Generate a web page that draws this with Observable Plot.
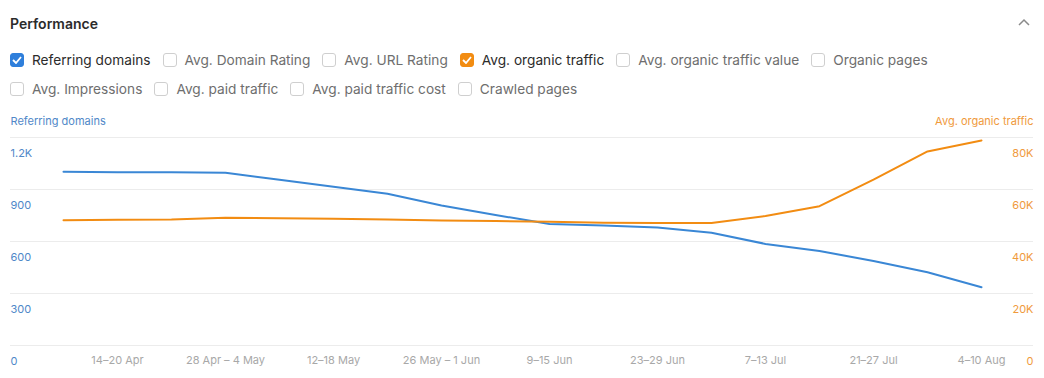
<!DOCTYPE html>
<html>
<head>
<meta charset="utf-8">
<script src="https://cdn.jsdelivr.net/npm/d3@7"></script>
<script src="https://cdn.jsdelivr.net/npm/@observablehq/plot@0.6"></script>
<style>
  body { margin:0; background:#fff; font-family: Inter, "Noto Sans", sans-serif; }
  #head { position:relative; height:110px; width:1044px; }
  .title { position:absolute; left:10px; top:15px; font-size:14px; font-weight:600; color:#2b2b2b; }
  .chev { position:absolute; left:1018px; top:18px; }
  .row { position:absolute; left:10px; display:flex; align-items:center; height:18px; }
  .item { display:flex; align-items:center; margin-right:12px; }
  .box { width:14px; height:14px; box-sizing:border-box; border:1px solid #cfcfcf; border-radius:3px; margin-right:8px; display:flex; align-items:center; justify-content:center; }
  .lbl { font-size:13.7px; color:#6e6e6e; white-space:nowrap; }
  .on .lbl { color:#2b2b2b; }
</style>
</head>
<body>
<div id="head">
  <div class="title">Performance</div>
  <svg class="chev" width="12" height="8" viewBox="0 0 12 8"><polyline points="1,7 6,2 11,7" fill="none" stroke="#8a8a8a" stroke-width="1.5"/></svg>
  <div class="row" id="row1" style="top:51px"></div>
  <div class="row" id="row2" style="top:80px"></div>
</div>
<div id="chart"></div>
<script>
// ---- data ----
const weeks = ["7–13 Apr","14–20 Apr","21–27 Apr","28 Apr – 4 May","5–11 May","12–18 May","19–25 May","26 May – 1 Jun","2–8 Jun","9–15 Jun","16–22 Jun","23–29 Jun","30 Jun – 6 Jul","7–13 Jul","14–20 Jul","21–27 Jul","28 Jul – 3 Aug","4–10 Aug"];
const referringDomains = [1002,1000,999,996,956,916,875,808,753,701,692,681,650,586,545,488,423,336];
const organicTraffic = [48190,48350,48460,49120,48920,48730,48460,48080,47880,47580,47190,47120,47120,49810,53580,63800,74620,78850];
const leftTicks = [0,300,600,900,1200];
const leftTickLabels = ["0","300","600","900","1.2K"];
const rightTicks = [0,20000,40000,60000,80000];
const rightTickLabels = ["0","20K","40K","60K","80K"];
const xTickLabels = weeks.filter((d,i)=>i%2===1);
const row1Labels = ["Referring domains","Avg. Domain Rating","Avg. URL Rating","Avg. organic traffic","Avg. organic traffic value","Organic pages"];
const row2Labels = ["Avg. Impressions","Avg. paid traffic","Avg. paid traffic cost","Crawled pages"];
const checked = {"Referring domains":"#2f7fdb","Avg. organic traffic":"#f28c12"};
const leftTitle = "Referring domains";
const rightTitle = "Avg. organic traffic";

// ---- checkboxes ----
function buildRow(el, labels){
  labels.forEach(l=>{
    const it = document.createElement("div");
    it.className = "item" + (checked[l] ? " on" : "");
    const b = document.createElement("div");
    b.className = "box";
    if (checked[l]) {
      b.style.background = checked[l];
      b.style.borderColor = checked[l];
      b.innerHTML = '<svg width="10" height="8" viewBox="0 0 10 8"><polyline points="1,4 4,7 9,1" fill="none" stroke="#fff" stroke-width="1.8"/></svg>';
    }
    const t = document.createElement("span");
    t.className = "lbl"; t.textContent = l;
    it.appendChild(b); it.appendChild(t);
    el.appendChild(it);
  });
}
buildRow(document.getElementById("row1"), row1Labels);
buildRow(document.getElementById("row2"), row2Labels);

// ---- chart ----
const blue = "#3a87d5", orange = "#f28c12";
const ratio = 1200/80000;
const rows = weeks.map((w,i)=>({week:w, rd:referringDomains[i], ot:organicTraffic[i]*ratio}));

const chart = Plot.plot({
  width:1044, height:268,
  marginTop:27, marginBottom:33, marginLeft:10, marginRight:11,
  style:{fontFamily:"Inter, 'Noto Sans', sans-serif", fontSize:"11px", background:"#fff"},
  x:{type:"point", domain:weeks, padding:0.97, axis:null},
  y:{domain:[0,1200], axis:null},
  marks:[
    Plot.ruleY(leftTicks, {stroke:"#ececec", strokeWidth:1}),
    Plot.text(leftTicks, {y:d=>d, text:(d,i)=>leftTickLabels[i], frameAnchor:"left", textAnchor:"start", lineAnchor:"middle", dy:16, fill:"#5088c8"}),
    Plot.text(rightTicks, {y:d=>d*ratio, text:(d,i)=>rightTickLabels[i], frameAnchor:"right", textAnchor:"end", lineAnchor:"middle", dy:16, fill:"#f09a3c"}),
    Plot.text(xTickLabels, {x:d=>d, text:d=>d, frameAnchor:"bottom", lineAnchor:"middle", dy:15, fill:"#a8a8a8"}),
    Plot.text([leftTitle], {text:d=>d, frameAnchor:"top-left", textAnchor:"start", lineAnchor:"middle", dy:-16, fill:"#5088c8"}),
    Plot.text([rightTitle], {text:d=>d, frameAnchor:"top-right", textAnchor:"end", lineAnchor:"middle", dy:-16, fill:"#f09a3c"}),
    Plot.line(rows, {x:"week", y:"rd", stroke:blue, strokeWidth:2}),
    Plot.line(rows, {x:"week", y:"ot", stroke:orange, strokeWidth:2})
  ]
});
document.getElementById("chart").appendChild(chart);
</script>
</body>
</html>
